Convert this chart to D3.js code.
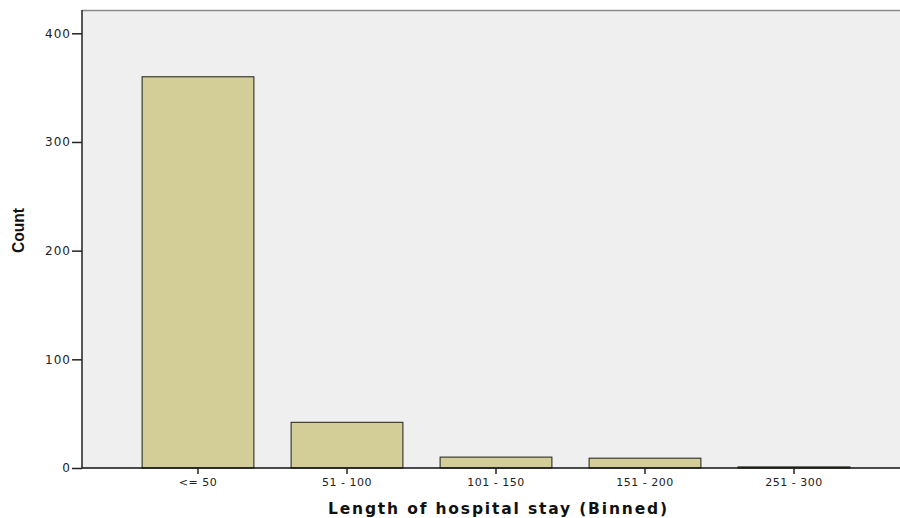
<!DOCTYPE html>
<html><head><meta charset="utf-8">
<script src="https://cdn.jsdelivr.net/npm/d3@7"></script>
<style>html,body{margin:0;padding:0;background:#fff;}svg{display:block;}</style>
</head><body>
<svg id="chart" width="900" height="518"></svg>
<script>
const categories = ["<= 50", "51 - 100", "101 - 150", "151 - 200", "251 - 300"];
const counts = [360, 42, 10, 9, 1];
const yTicks = [0, 100, 200, 300, 400];
const xTitle = "Length of hospital stay (Binned)";
const yTitle = "Count";

const svg = d3.select("#chart");
const plotLeft = 82, plotTop = 10, plotRight = 900, plotBottom = 468;

const x = d3.scaleBand().domain(categories).range([123.5, 868.5]).paddingInner(0.25).paddingOuter(0.125);
const y = d3.scaleLinear().domain([0, 400]).range([plotBottom, 33.3]);

svg.append("rect").attr("x", plotLeft).attr("y", plotTop)
  .attr("width", plotRight - plotLeft).attr("height", plotBottom - plotTop)
  .attr("fill", "#efefef");
svg.append("line").attr("x1", plotLeft).attr("x2", plotRight).attr("y1", plotTop + 0.5).attr("y2", plotTop + 0.5)
  .attr("stroke", "#8a8a8a").attr("stroke-width", 1.5);

svg.append("g").selectAll("rect").data(counts).join("rect")
  .attr("x", (d, i) => x(categories[i]))
  .attr("y", d => y(d))
  .attr("width", x.bandwidth())
  .attr("height", d => plotBottom - y(d))
  .attr("fill", "#d3ce98")
  .attr("stroke", "#3c3c32")
  .attr("stroke-width", 1.2);

const tickFont = "DejaVu Sans, Verdana, sans-serif";

const yAxis = svg.append("g").attr("transform", `translate(${plotLeft},0)`)
  .call(d3.axisLeft(y).tickValues(yTicks).tickSize(10).tickPadding(1).tickSizeOuter(0));
yAxis.select(".domain").attr("d", `M0,${plotTop}V${plotBottom}`).attr("stroke", "#222").attr("stroke-width", 1.5);
yAxis.selectAll(".tick line").attr("stroke", "#222").attr("stroke-width", 1.5);
yAxis.selectAll(".tick text").attr("font-family", tickFont).attr("font-size", 12)
  .attr("fill", "#222").attr("letter-spacing", "1px");

const xAxis = svg.append("g").attr("transform", `translate(0,${plotBottom})`)
  .call(d3.axisBottom(x).tickSize(6).tickPadding(4).tickSizeOuter(0));
xAxis.select(".domain").attr("d", `M${plotLeft},0H${plotRight}`).attr("stroke", "#111").attr("stroke-width", 1.5);
xAxis.selectAll(".tick line").attr("stroke", "#222").attr("stroke-width", 1.5);
xAxis.selectAll(".tick text").attr("font-family", tickFont).attr("font-size", 11)
  .attr("fill", "#222").attr("letter-spacing", "0.5px");

svg.append("text").attr("x", 497.5).attr("y", 514).attr("text-anchor", "middle")
  .attr("font-family", "DejaVu Sans, Verdana, sans-serif").attr("font-weight", "bold")
  .attr("font-size", 15.5).attr("textLength", 339).attr("lengthAdjust", "spacing")
  .attr("fill", "#111").text(xTitle);

svg.append("text").attr("transform", "translate(24,230.5) rotate(-90) scale(0.92,1)").attr("text-anchor", "middle")
  .attr("font-family", "Liberation Sans, Arial, sans-serif").attr("font-weight", "bold")
  .attr("font-size", 17).attr("fill", "#111").text(yTitle);
</script>
</body></html>
